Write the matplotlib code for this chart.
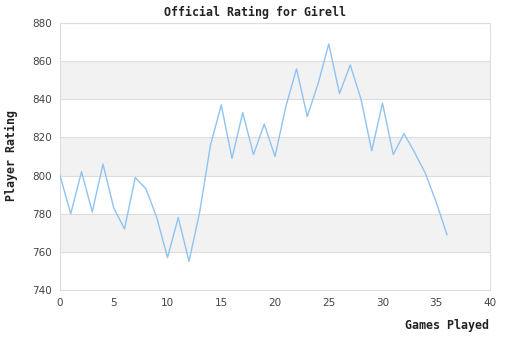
import matplotlib.pyplot as plt
import numpy as np

games = list(range(0, 37))
rating = [800, 780, 802, 781, 806, 783, 772, 799, 793, 778,
          757, 778, 755, 781, 816, 837, 809, 833, 811, 827,
          810, 836, 856, 831, 848, 869, 843, 858, 840, 813,
          838, 811, 822, 812, 801, 786, 769]

yticks = [740, 760, 780, 800, 820, 840, 860, 880]
xticks = [0, 5, 10, 15, 20, 25, 30, 35, 40]

mono = 'DejaVu Sans Mono'

fig = plt.figure(figsize=(5.1, 3.4), dpi=100)
ax = fig.add_axes([60/510, 1-290/340, 430/510, 267/340])

# bande grigie alternate
for lo in [760, 800, 840]:
    ax.axhspan(lo, lo+20, color='#f2f2f2', zorder=0, lw=0)
for y in yticks:
    ax.axhline(y, color='#dddddd', lw=0.8, zorder=1)

ax.plot(games, rating, color='#8fc3f2', lw=1.0, zorder=3)

ax.set_xlim(0, 40)
ax.set_ylim(740, 880)
ax.set_xticks(xticks)
ax.set_yticks(yticks)
ax.tick_params(length=0, labelsize=7.5, colors='#444444', pad=6)
for s in ax.spines.values():
    s.set_color('#dddddd')
    s.set_linewidth(0.8)

fig.text(0.5, 1-12/340, 'Official Rating for Girell', ha='center', va='center',
         family=mono, weight='bold', fontsize=8.4, color='#222222')
fig.text(11/510, 1-156/340, 'Player Rating', rotation=90, ha='center', va='center',
         family=mono, weight='bold', fontsize=8.4, color='#222222')
fig.text(489/510, 1-326/340, 'Games Played', ha='right', va='center',
         family=mono, weight='bold', fontsize=8.4, color='#222222')

plt.savefig('out.png', dpi=100)
